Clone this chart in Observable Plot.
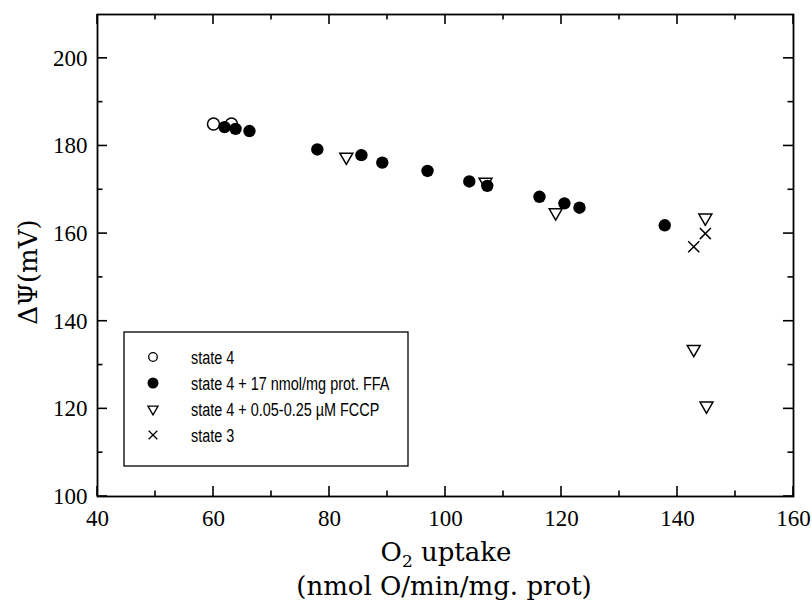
<!DOCTYPE html>
<html><head><meta charset="utf-8">
<script src="https://cdn.jsdelivr.net/npm/d3@7"></script>
<script src="https://cdn.jsdelivr.net/npm/@observablehq/plot@0.6"></script>
<style>body{margin:0;background:#fff;} #chart{width:812px;height:603px;}</style>
</head><body><div id="chart"></div>
<script>
// ---- data ----
const xMajor = [40, 60, 80, 100, 120, 140, 160];
const xMinor = [50, 70, 90, 110, 130, 150];
const yMajor = [100, 120, 140, 160, 180, 200];
const yMinor = [110, 130, 150, 170, 190];

const state4X = [60, 63.1];
const state4Y = [185, 185];
const ffaX = [61.9, 63.8, 66.2, 77.9, 85.5, 89.1, 96.9, 104.1, 107.2, 116.2, 120.5, 123.1, 137.8];
const ffaY = [184.3, 183.9, 183.4, 179.2, 177.9, 176.2, 174.3, 171.9, 170.9, 168.4, 166.9, 165.9, 161.9];
const fccpX = [82.9, 106.9, 119.0, 144.8, 142.8, 145.0];
const fccpY = [177.5, 171.8, 164.8, 163.6, 133.6, 120.7];
const state3X = [142.8, 144.8];
const state3Y = [157, 160];

const legendLabels = ["state 4", "state 4 + 17 nmol/mg prot. FFA", "state 4 + 0.05-0.25 \u00b5M FCCP", "state 3"];

const toRows = (xs, ys) => xs.map((x, i) => ({x, y: ys[i]}));
const state4 = toRows(state4X, state4Y);
const ffa = toRows(ffaX, ffaY);
const fccp = toRows(fccpX, fccpY);
const state3 = toRows(state3X, state3Y);

// ---- layout ----
const W = 812, H = 603, mL = 97, mR = 19, mT = 14, mB = 107;
const maj = 10, mnr = 5.5;

const chart = Plot.plot({
  width: W, height: H,
  marginLeft: mL, marginRight: mR, marginTop: mT, marginBottom: mB,
  style: {fontFamily: "'Liberation Serif', 'Times New Roman', serif", fontSize: "23px", color: "#000", background: "#fff", overflow: "visible"},
  x: {domain: [40, 160]},
  y: {domain: [100, 210]},
  marks: [
    Plot.axisX(xMajor, {tickSize: 0, tickPadding: 13, label: null, fontSize: 23}),
    Plot.axisY(yMajor, {tickSize: 0, tickPadding: 10, label: null, fontSize: 23}),
    Plot.frame({stroke: "#000", strokeWidth: 1.8}),
    Plot.dot(state4, {x: "x", y: "y", r: 6, stroke: "#000", strokeWidth: 1.5, fill: "none"}),
    Plot.dot(fccp, {x: "x", y: "y", symbol: "triangle", r: 4.8, rotate: 180, stroke: "#000", strokeWidth: 1.5, fill: "none"}),
    Plot.dot(state3, {x: "x", y: "y", symbol: "times", r: 5.1, stroke: "#000", strokeWidth: 1.5}),
    Plot.dot(ffa, {x: "x", y: "y", r: 6.2, fill: "#000", stroke: "none"})
  ]
});
document.getElementById("chart").appendChild(chart);
const svg = d3.select(chart);

// ---- inward ticks on all four sides, positioned by Plot's own scales ----
const sx = chart.scale("x"), sy = chart.scale("y");
const bx0 = sx.apply(40), bx1 = sx.apply(160), by0 = sy.apply(100), by1 = sy.apply(210);
const tg = svg.append("g");
const addLine = (a, b, c, d) => tg.append("line")
  .attr("x1", a).attr("y1", b).attr("x2", c).attr("y2", d)
  .attr("stroke", "#000").attr("stroke-width", 1.6);
[[xMajor, maj], [xMinor, mnr]].forEach(([arr, len]) => arr.forEach(v => {
  const px = sx.apply(v);
  addLine(px, by0, px, by0 - len);
  addLine(px, by1, px, by1 + len);
}));
[[yMajor, maj], [yMinor, mnr]].forEach(([arr, len]) => arr.forEach(v => {
  const py = sy.apply(v);
  addLine(bx0, py, bx0 + len, py);
  addLine(bx1, py, bx1 - len, py);
}));

// ---- axis titles ----
const serif = "'DejaVu Serif', serif";
svg.append("text")
  .attr("transform", "translate(37,272) rotate(-90)")
  .attr("text-anchor", "middle")
  .style("font-family", serif).style("font-size", "26px").attr("fill", "#000")
  .text("\u0394\u03a8(mV)");
const t1 = svg.append("text")
  .attr("x", 446).attr("y", 561).attr("text-anchor", "middle")
  .style("font-family", serif).style("font-size", "26px").attr("fill", "#000");
t1.append("tspan").text("O");
t1.append("tspan").attr("dy", 6).style("font-size", "17px").text("2");
t1.append("tspan").attr("dy", -6).text(" uptake");
svg.append("text")
  .attr("x", 444).attr("y", 595).attr("text-anchor", "middle")
  .style("font-family", serif).style("font-size", "26px").attr("fill", "#000")
  .text("(nmol O/min/mg. prot)");

// ---- legend ----
const lg = svg.append("g");
lg.append("rect").attr("x", 124).attr("y", 332).attr("width", 284).attr("height", 134)
  .attr("fill", "#fff").attr("stroke", "#000").attr("stroke-width", 1.3);
const rowY = [357, 383, 409, 435];
const symDefs = [
  {type: d3.symbolCircle, size: Math.PI * 4.3 * 4.3, fill: "none", stroke: "#000", rot: 0},
  {type: d3.symbolCircle, size: Math.PI * 5.5 * 5.5, fill: "#000", stroke: "none", rot: 0},
  {type: d3.symbolTriangle, size: 45, fill: "none", stroke: "#000", rot: 180},
  {type: d3.symbolTimes, size: 50, fill: "none", stroke: "#000", rot: 0}
];
legendLabels.forEach((lab, i) => {
  const s = symDefs[i];
  lg.append("path").attr("d", d3.symbol(s.type, s.size)())
    .attr("transform", `translate(153,${rowY[i]}) rotate(${s.rot})`)
    .attr("fill", s.fill).attr("stroke", s.stroke).attr("stroke-width", 1.3);
  lg.append("text")
    .attr("transform", `translate(191,${rowY[i]}) scale(0.76,1)`)
    .attr("dy", "0.35em").attr("text-anchor", "start")
    .style("font-family", "'Liberation Sans', Arial, sans-serif").style("font-size", "19px")
    .attr("fill", "#000").text(lab);
});
</script>
</body></html>
